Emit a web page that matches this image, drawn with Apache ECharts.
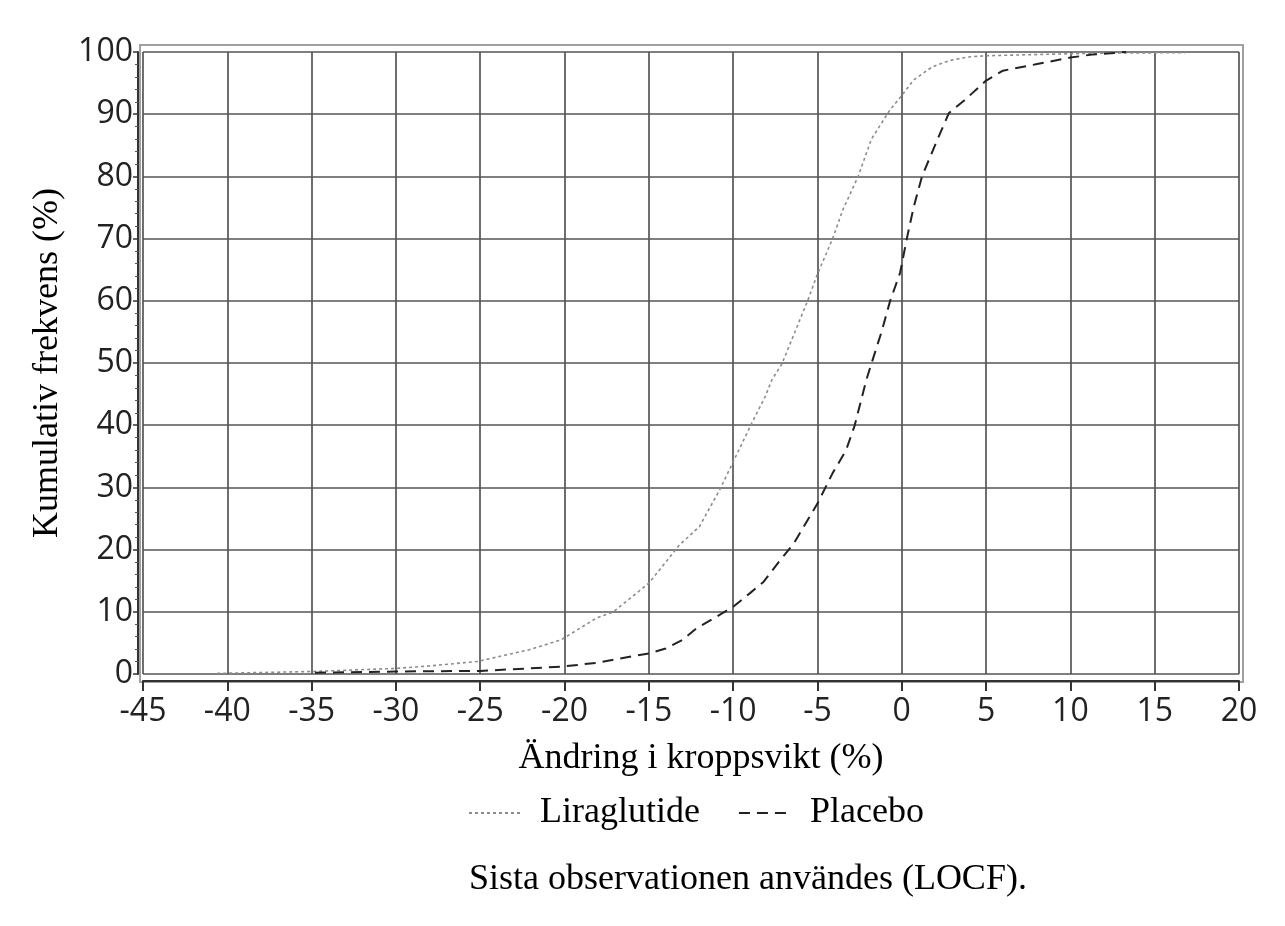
<!DOCTYPE html>
<html>
<head>
<meta charset="utf-8">
<script src="https://cdn.jsdelivr.net/npm/echarts@6/dist/echarts.min.js"></script>
<style>
html,body{margin:0;padding:0;background:#fff;}
#c{width:1285px;height:926px;}
</style>
</head>
<body>
<div id="c"></div>
<script>
// Liraglutide (dotted) – cumulative frequency (%) vs change in body weight (%)
const liraX = [-40.6, -35, -30, -28, -25.2, -22.1, -20.2, -18.1, -17.1, -15, -13.2, -12, -10.8, -10, -8.9, -8.1, -7.7, -7.1, -5.6, -5, -4.1, -3.5, -2.6, -1.8, -0.7, 0, 0.7, 1.8, 2.8, 3.9, 5, 8.1, 11.3, 16.8];
const liraY = [0.1, 0.4, 0.9, 1.3, 2.0, 3.9, 5.5, 9.0, 10.0, 14.6, 20.7, 23.7, 29.6, 34.1, 40.3, 44.6, 47.3, 49.9, 59.9, 64.3, 70.0, 74.6, 79.9, 86.0, 90.7, 93.0, 95.5, 97.6, 98.6, 99.2, 99.4, 99.6, 99.8, 99.9];
// Placebo (dashed)
const placX = [-34.8, -30, -25, -22.1, -20.1, -18.1, -16.7, -15, -14, -13, -12.2, -11, -10, -9, -8.2, -7.3, -6.4, -5, -4.1, -3.3, -2.8, -2.1, -1.8, -1.2, -0.7, -0.1, 0.3, 0.7, 1.2, 2.0, 2.8, 3.7, 5, 6, 8.1, 10, 11.3, 12.4, 13.3];
const placY = [0.2, 0.4, 0.5, 0.9, 1.2, 1.8, 2.5, 3.3, 4.1, 5.5, 7.3, 9.2, 10.8, 13.0, 14.8, 18.0, 21.0, 27.4, 32.3, 36.0, 39.9, 47.3, 49.9, 55.0, 59.9, 64.5, 70.0, 75.0, 80.0, 85.2, 90.2, 92.2, 95.4, 97.0, 98.1, 99.1, 99.6, 99.8, 100];

const seriesNames = ['Liraglutide', 'Placebo'];
const xAxisTitle = 'Ändring i kroppsvikt (%)';
const yAxisTitle = 'Kumulativ frekvens (%)';
const footnote = 'Sista observationen användes (LOCF).';

const pairs = (xs, ys) => xs.map((x, i) => [x, ys[i]]);

const serif = '"Liberation Serif", "Times New Roman", serif';
const sans = '"Open Sans", "Noto Sans", sans-serif';
const gridColor = '#555555';

const chart = echarts.init(document.getElementById('c'), null, {renderer: 'canvas'});
chart.setOption({
  backgroundColor: '#fff',
  animation: false,
  title: {
    text: footnote,
    left: 464,
    top: 857,
    textStyle: {fontFamily: serif, fontSize: 36, fontWeight: 'normal', color: '#000'}
  },
  legend: {
    data: seriesNames,
    left: 463,
    top: 790,
    itemWidth: 52,
    itemHeight: 14,
    itemGap: 38,
    itemStyle: {opacity: 0},
    textStyle: {fontFamily: serif, fontSize: 36, color: '#000', padding: [0, 0, 0, 14]}
  },
  grid: [
    {left: 143, right: 46, top: 52, bottom: 252, containLabel: false, outerBoundsMode: 'none'},
    {left: 140, right: 42, top: 45, bottom: 244, show: true, borderColor: '#a0a0a0', borderWidth: 2, backgroundColor: 'transparent', z: 0, containLabel: false, outerBoundsMode: 'none'}
  ],
  xAxis: [
    {
      type: 'value', gridIndex: 0, min: -45, max: 20, interval: 5,
      offset: 7,
      name: xAxisTitle, nameLocation: 'middle', nameGap: 60,
      nameTextStyle: {fontFamily: serif, fontSize: 36, color: '#000', padding: [0, 0, 0, 20]},
      axisLine: {show: true, onZero: false, lineStyle: {color: '#333', width: 2}},
      axisTick: {show: true, length: 10, lineStyle: {color: '#333', width: 2}},
      axisLabel: {fontFamily: sans, fontSize: 32, color: '#222', margin: 15},
      splitLine: {show: true, lineStyle: {color: gridColor, width: 1.7}}
    },
    {type: 'value', gridIndex: 1, min: 0, max: 1, show: false}
  ],
  yAxis: [
    {
      type: 'value', gridIndex: 0, min: 0, max: 100, interval: 10,
      offset: 5,
      name: yAxisTitle, nameLocation: 'middle', nameGap: 72, nameRotate: 90,
      nameTextStyle: {fontFamily: serif, fontSize: 36, color: '#000'},
      axisLine: {show: true, onZero: false, lineStyle: {color: '#333', width: 2}},
      axisTick: {show: true, length: 5, lineStyle: {color: '#333', width: 1.5}},
      minorTick: {show: true, splitNumber: 5, length: 3, lineStyle: {color: '#555', width: 1}},
      axisLabel: {fontFamily: sans, fontSize: 32, color: '#222', margin: 5},
      splitLine: {show: true, lineStyle: {color: gridColor, width: 1.7}}
    },
    {type: 'value', gridIndex: 1, min: 0, max: 1, show: false}
  ],
  series: [
    {
      name: seriesNames[0], type: 'line', xAxisIndex: 0, yAxisIndex: 0,
      data: pairs(liraX, liraY), symbol: 'none', smooth: false, z: 3,
      itemStyle: {color: '#8c8c8c'},
      lineStyle: {color: '#8c8c8c', width: 1.6, type: [3, 3]}
    },
    {
      name: seriesNames[1], type: 'line', xAxisIndex: 0, yAxisIndex: 0,
      data: pairs(placX, placY), symbol: 'none', smooth: false, z: 4,
      itemStyle: {color: '#222'},
      lineStyle: {color: '#222', width: 2, type: [11, 7]}
    }
  ]
});
</script>
</body>
</html>
